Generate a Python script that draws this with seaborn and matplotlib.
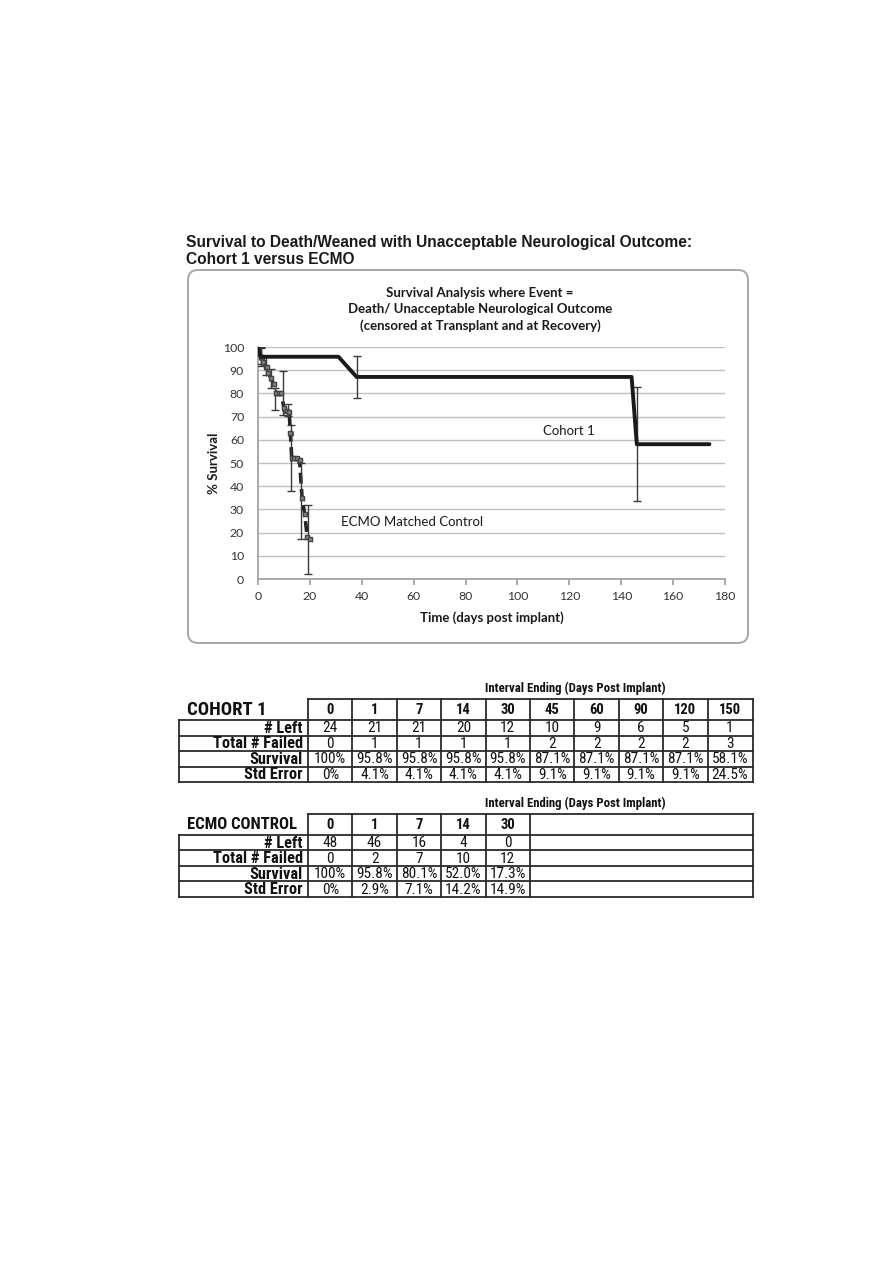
import matplotlib
matplotlib.use("Agg")
import matplotlib.pyplot as plt
from matplotlib import font_manager
from matplotlib.patches import FancyBboxPatch
import seaborn as sns
import pandas as pd

# ---------------- data ----------------
cohort_days = [0, 1, 31, 38, 144, 146, 174]
cohort_surv = [100, 95.8, 95.8, 87.1, 87.1, 58.1, 58.1]
cohort_err_days = [1, 38, 146]
cohort_err_surv = [95.8, 87.1, 58.1]
cohort_err = [4.1, 9.1, 24.5]

ecmo_days = [0, 0.5, 1, 1.5, 2, 3, 3.5, 4, 5, 6, 7, 8, 9, 10, 11, 12, 12.5, 13, 14, 15, 16, 17, 18, 19, 20]
ecmo_surv = [100, 97.9, 95.8, 95.8, 93.6, 91.4, 91.4, 88.9, 86.5, 84.1, 80.1, 80.1, 80.1, 73.5, 72.6, 72.0,
             63.0, 52.0, 52.0, 52.0, 51.5, 34.7, 28.0, 18.0, 17.3]
ecmo_err_days = [1, 3, 5, 6.5, 9.5, 11.7, 12.7, 16.5, 19.2]
ecmo_err_surv = [96, 92, 86.5, 77.7, 80.3, 72.8, 52, 33.6, 17.1]
ecmo_err = [3.5, 4, 4, 4.7, 9.5, 2.5, 14.2, 16.4, 14.9]

x_ticks = [0, 20, 40, 60, 80, 100, 120, 140, 160, 180]
y_ticks = [0, 10, 20, 30, 40, 50, 60, 70, 80, 90, 100]

row_labels = ["# Left", "Total # Failed", "Survival", "Std Error"]
c1_days = ["0", "1", "7", "14", "30", "45", "60", "90", "120", "150"]
c1_left = ["24", "21", "21", "20", "12", "10", "9", "6", "5", "1"]
c1_failed = ["0", "1", "1", "1", "1", "2", "2", "2", "2", "3"]
c1_surv = ["100%", "95.8%", "95.8%", "95.8%", "95.8%", "87.1%", "87.1%", "87.1%", "87.1%", "58.1%"]
c1_se = ["0%", "4.1%", "4.1%", "4.1%", "4.1%", "9.1%", "9.1%", "9.1%", "9.1%", "24.5%"]

ec_days = ["0", "1", "7", "14", "30"]
ec_left = ["48", "46", "16", "4", "0"]
ec_failed = ["0", "2", "7", "10", "12"]
ec_surv = ["100%", "95.8%", "80.1%", "52.0%", "17.3%"]
ec_se = ["0%", "2.9%", "7.1%", "14.2%", "14.9%"]

# ---------------- style ----------------
sns.set_theme(style="white")
available = {f.name for f in font_manager.fontManager.ttflist}
narrow = None
for cand in ["Liberation Sans Narrow", "Arial Narrow", "Roboto Condensed", "Open Sans Condensed",
             "Noto Sans Condensed", "Noto Sans Display Condensed"]:
    if cand in available:
        narrow = cand
        break
if narrow is None:
    for nm in sorted(available):
        if ("Narrow" in nm or "Condensed" in nm) and "Serif" not in nm and "Mono" not in nm \
                and "DejaVu" not in nm:
            narrow = nm
            break
fs = 1.0
if narrow is None:
    narrow = "Liberation Sans"
    fs = 0.84
chart_font = "Lato"
plt.rcParams["font.family"] = ["Liberation Sans", "DejaVu Sans"]

W, H = 893, 1263
fig = plt.figure(figsize=(W / 100, H / 100), dpi=100)


def fx(x):
    return x / W


def fy(y):
    return 1 - y / H


# page title
fig.text(fx(186), fy(243), "Survival to Death/Weaned with Unacceptable Neurological Outcome:",
         fontsize=11.2, fontweight="bold", family="Liberation Sans", ha="left", va="center", color="#1a1a1a")
fig.text(fx(186), fy(260), "Cohort 1 versus ECMO",
         fontsize=11.2, fontweight="bold", family="Liberation Sans", ha="left", va="center", color="#1a1a1a")

# rounded chart frame (pixel coordinates)
frame = FancyBboxPatch((188 + 10, H - 643 + 10), 560 - 20, 373 - 20,
                       boxstyle="round,pad=10", transform=None,
                       facecolor="none", edgecolor="#a6a6a6", linewidth=1.4, zorder=-5)
fig.patches.append(frame)

# chart
ax = fig.add_axes([fx(258), fy(579), 467 / W, 232 / H])
ax.set_zorder(2)
ax.set_facecolor("none")
sns.lineplot(x=ecmo_days, y=ecmo_surv, ax=ax, color="#222222", linewidth=2.6,
             linestyle=(0, (3, 1.5)), estimator=None, sort=False, zorder=3)
ax.errorbar(ecmo_days[1:], ecmo_surv[1:], xerr=0.8, fmt="s", ms=2.2, color="#666666",
            mfc="#888888", mec="#444444", elinewidth=0.8, capsize=1.8, capthick=0.8, zorder=4)
ax.errorbar(ecmo_err_days, ecmo_err_surv, yerr=ecmo_err, fmt="none", ecolor="#3a3a3a",
            elinewidth=1.0, capsize=3, capthick=1.0, zorder=4)
sns.lineplot(x=cohort_days, y=cohort_surv, ax=ax, color="#1a1a1a", linewidth=2.8,
             estimator=None, sort=False, zorder=5)
ax.errorbar(cohort_err_days, cohort_err_surv, yerr=cohort_err, fmt="none", ecolor="#3a3a3a",
            elinewidth=1.0, capsize=3, capthick=1.0, zorder=4)

ax.set_xlim(0, 180)
ax.set_ylim(0, 100)
ax.set_xticks(x_ticks)
ax.set_yticks(y_ticks)
ax.set_xticklabels([str(t) for t in x_ticks], family=chart_font, fontsize=8.8, color="#333333")
ax.set_yticklabels([str(t) for t in y_ticks], family=chart_font, fontsize=8.8, color="#333333")
ax.yaxis.grid(True, color="#bfbfbf", linewidth=1.0)
ax.xaxis.grid(False)
for s in ["top", "right"]:
    ax.spines[s].set_visible(False)
ax.spines["left"].set_color("#a0a0a0")
ax.spines["bottom"].set_color("#a0a0a0")
ax.tick_params(axis="x", which="both", bottom=True, length=4, color="#a0a0a0", pad=5)
ax.tick_params(axis="y", which="both", left=False, pad=4)
ax.set_xlabel("Time (days post implant)", family=chart_font, fontweight="bold", fontsize=9.5,
              color="#1a1a1a", labelpad=6)
ax.set_ylabel("% Survival", family=chart_font, fontweight="bold", fontsize=9.5,
              color="#1a1a1a", labelpad=2)
ax.set_title("Survival Analysis where Event =\nDeath/ Unacceptable Neurological Outcome\n"
             "(censored at Transplant and at Recovery)", family=chart_font, fontweight="bold",
             fontsize=9.5, color="#1a1a1a", linespacing=1.45, pad=12, x=(480 - 258) / 467)
ax.text(110, 64, "Cohort 1", family=chart_font, fontsize=9.5, color="#1a1a1a", ha="left", va="center")
ax.text(32, 24.6, "ECMO Matched Control", family=chart_font, fontsize=9.5, color="#1a1a1a",
        ha="left", va="center")


# ---------------- tables ----------------
def draw_table(top, title, days, rows, title_size, ncols_total=10):
    left, right = 179, 753
    row_edges = [top, top + 21, top + 36.5, top + 52, top + 67.5, top + 83]
    lab_edge = 308
    cw = 44.4
    tax = fig.add_axes([fx(left), fy(row_edges[-1]), (right - left) / W, (row_edges[-1] - top) / H])
    tax.set_xlim(left, right)
    tax.set_ylim(row_edges[-1], top)
    tax.axis("off")
    lk = dict(color="#2a2a2a", linewidth=1.3, clip_on=False, solid_capstyle="projecting")
    n = len(days)
    col_edges = [lab_edge + i * cw for i in range(n + 1)]
    if n < ncols_total:
        col_edges_all = col_edges + [right]
    else:
        col_edges_all = col_edges[:-1] + [right]
    # header row
    tax.plot([lab_edge, right], [row_edges[0], row_edges[0]], **lk)
    for xe in col_edges_all:
        tax.plot([xe, xe], [row_edges[0], row_edges[1]], **lk)
    # body rows
    for ye in row_edges[1:]:
        tax.plot([left, right], [ye, ye], **lk)
    for xe in [left] + col_edges_all:
        tax.plot([xe, xe], [row_edges[1], row_edges[-1]], **lk)
    # text
    tax.text(left + 8, (row_edges[0] + row_edges[1]) / 2 + 0.5, title, family=narrow,
             fontweight="bold", fontsize=title_size * fs, ha="left", va="center", color="#111111")
    fig.text(fx(575), fy(top - 11), "Interval Ending (Days Post Implant)", family=narrow,
             fontweight="bold", fontsize=9.2 * fs, ha="center", va="center", color="#111111")
    for i, d in enumerate(days):
        xc = lab_edge + (i + 0.5) * cw
        tax.text(xc, (row_edges[0] + row_edges[1]) / 2 + 0.5, d, family=narrow, fontweight="bold",
                 fontsize=10.5 * fs, ha="center", va="center", color="#111111")
    for r, (lab, vals) in enumerate(zip(row_labels, rows)):
        yc = (row_edges[r + 1] + row_edges[r + 2]) / 2 + 0.5
        tax.text(lab_edge - 5, yc, lab, family=narrow, fontweight="bold", fontsize=11.8 * fs,
                 ha="right", va="center", color="#111111")
        for i, v in enumerate(vals):
            xc = lab_edge + (i + 0.5) * cw
            tax.text(xc, yc, v, family=narrow, fontsize=11 * fs, ha="center", va="center", color="#111111")


draw_table(699, "COHORT 1", c1_days, [c1_left, c1_failed, c1_surv, c1_se], 13.5)
draw_table(814, "ECMO CONTROL", ec_days, [ec_left, ec_failed, ec_surv, ec_se], 12.0)

fig.savefig("out.png", dpi=100, facecolor="white")
